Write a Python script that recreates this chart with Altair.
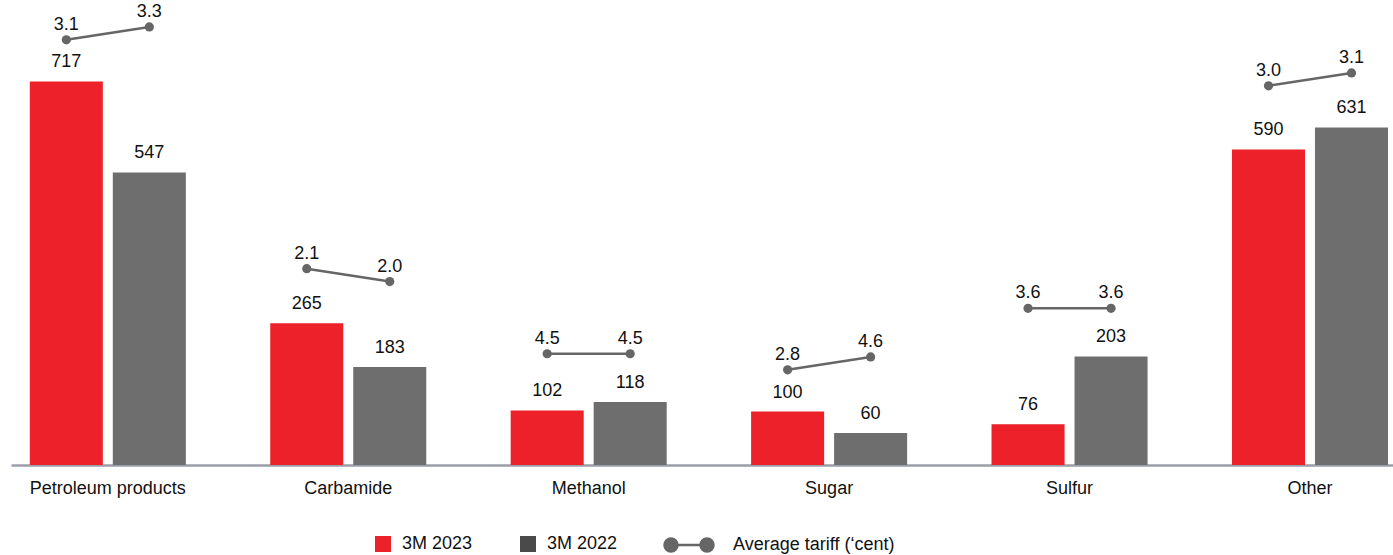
import altair as alt
import pandas as pd
import numpy as np

# ---- data ----
categories = ["Petroleum products", "Carbamide", "Methanol", "Sugar", "Sulfur", "Other"]
series = ["3M 2023", "3M 2022"]
vol_2023 = [717, 265, 102, 100, 76, 590]
vol_2022 = [547, 183, 118, 60, 203, 631]
tariff_2023 = [3.1, 2.1, 4.5, 2.8, 3.6, 3.0]
tariff_2022 = [3.3, 2.0, 4.5, 4.6, 3.6, 3.1]
tariff_name = "Average tariff (\u2018cent)"

RED = "#ec2129"
GRAY = "#6e6e6e"
LEG_GRAY = "#4a4a4a"
LINE = "#666666"
FONT = "Liberation Sans"
FS = 18

rows = []
for i, c in enumerate(categories):
    top = max(vol_2023[i], vol_2022[i])
    mean_t = (tariff_2023[i] + tariff_2022[i]) / 2
    for s, v, t in ((series[0], vol_2023[i], tariff_2023[i]), (series[1], vol_2022[i], tariff_2022[i])):
        # tariff markers float above the taller bar of the group
        ty = top + 90 + 12 * np.sign(round(t - mean_t, 3))
        rows.append({"category": c, "series": s, "value": v, "tariff": t, "ty": float(ty),
                     "metric": tariff_name})
df = pd.DataFrame(rows)

x_enc = alt.X("category:N", sort=categories,
              scale=alt.Scale(paddingInner=0.351, paddingOuter=0.0495, align=0.79),
              axis=alt.Axis(title=None, labelAngle=0, ticks=False, labelFontSize=FS,
                            labelFont=FONT, labelColor="#111111", labelPadding=14,
                            domainColor="#9b9ea8", domainWidth=2.5))
xo_enc = alt.XOffset("series:N", sort=series, scale=alt.Scale(paddingInner=0.12, paddingOuter=0))
y_scale = alt.Scale(domain=[0, 860], nice=False)

base = alt.Chart(df)

bars = base.mark_bar().encode(
    x=x_enc, xOffset=xo_enc,
    y=alt.Y("value:Q", scale=y_scale, axis=None),
    color=alt.Color("series:N", sort=series, scale=alt.Scale(domain=series, range=[RED, GRAY]), legend=None),
)

bar_labels = base.mark_text(baseline="bottom", dy=-10, fontSize=FS, font=FONT, color="#111111").encode(
    x=x_enc, xOffset=xo_enc,
    y=alt.Y("value:Q", scale=y_scale, axis=None),
    text=alt.Text("value:Q"),
)

line_path = "M-0.735,0L0.735,0M-1,0A0.265,0.265 0 1,1 -0.47,0A0.265,0.265 0 1,1 -1,0M0.47,0A0.265,0.265 0 1,1 1,0A0.265,0.265 0 1,1 0.47,0Z"

lines = base.mark_line(strokeWidth=2.5).encode(
    x=x_enc, xOffset=xo_enc,
    y=alt.Y("ty:Q", scale=y_scale, axis=None),
    detail="category:N",
    stroke=alt.Stroke("metric:N", scale=alt.Scale(domain=[tariff_name], range=[LINE]),
                      legend=alt.Legend(orient="none", legendX=652, legendY=514, title=None,
                                        symbolType=line_path, symbolSize=2401,
                                        symbolFillColor=LINE, symbolStrokeColor=LINE,
                                        symbolOpacity=1, labelLimit=400,
                                        symbolStrokeWidth=2.5, labelFontSize=FS, labelFont=FONT,
                                        labelColor="#111111", labelOffset=18)),
)

points = base.mark_circle(size=85, color=LINE, opacity=1).encode(
    x=x_enc, xOffset=xo_enc,
    y=alt.Y("ty:Q", scale=y_scale, axis=None),
)

tariff_labels = base.mark_text(baseline="bottom", dy=-6, fontSize=FS, font=FONT, color="#111111").encode(
    x=x_enc, xOffset=xo_enc,
    y=alt.Y("ty:Q", scale=y_scale, axis=None),
    text=alt.Text("tariff:Q", format=".1f"),
)

legend_layer = base.transform_filter("datum.value < 0").mark_square(opacity=1).encode(
    fill=alt.Fill("series:N", sort=series,
                  scale=alt.Scale(domain=series, range=[RED, LEG_GRAY]),
                  legend=alt.Legend(orient="none", legendX=363, legendY=530, title=None,
                                    direction="horizontal", symbolType="square", symbolSize=256,
                                    symbolOpacity=1, labelLimit=300,
                                    symbolStrokeWidth=0, labelFontSize=FS, labelFont=FONT,
                                    labelColor="#111111", labelOffset=10, columnPadding=46)),
)

chart = alt.layer(bars, bar_labels, lines, points, tariff_labels, legend_layer).resolve_scale(
    fill="independent", stroke="independent", color="independent"
).properties(
    width=1382, height=460,
    autosize=alt.AutoSizeParams(type="none"),
    padding={"left": 11, "top": 5, "right": 0, "bottom": 90},
    background="white",
).configure_view(stroke=None)

chart.save("out.html", embed_options={"renderer": "svg", "actions": False})
